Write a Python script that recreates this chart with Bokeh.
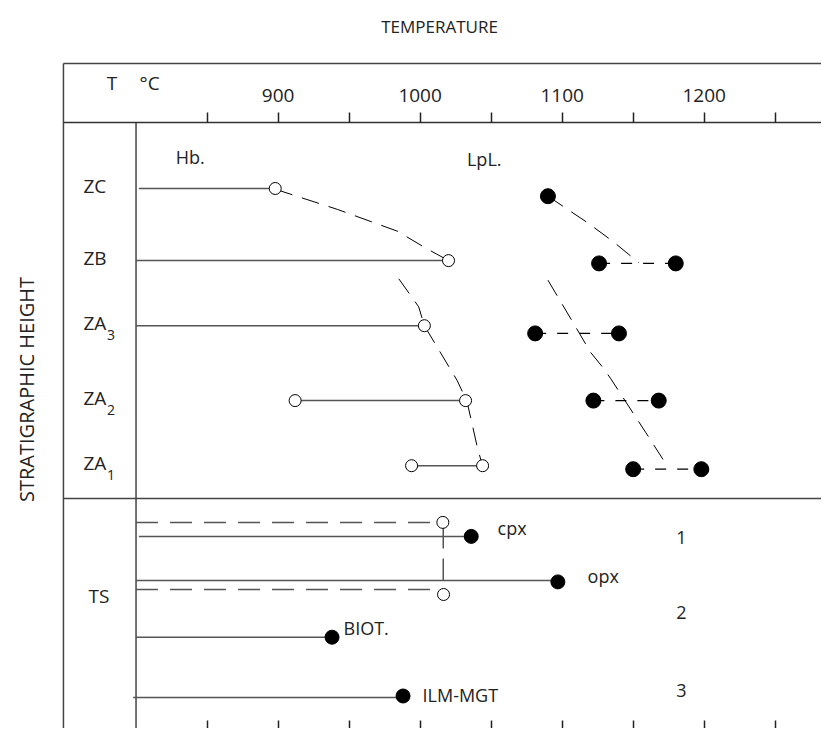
from bokeh.plotting import figure
from bokeh.models import Range1d, LinearAxis, FixedTicker
from bokeh.core.properties import value
from bokeh.embed import file_html
from bokeh.resources import INLINE
import math

FONT = "Open Sans"
INK = "#222222"

# ---------------- data ----------------
# temperature axis (deg C)
major_ticks = [900, 1000, 1100, 1200]
minor_ticks = [850, 950, 1050, 1150, 1250]

# stratigraphic units (upper panel)
units = ["ZC", "ZB", "ZA", "ZA", "ZA"]
unit_sub = ["", "", "3", "2", "1"]
unit_level = [9.0, 7.97, 7.04, 5.97, 5.04]

# Hb. temperature bars and open circles
hb_from = [802, 800, 800, 912, 994]
hb_to = [898, 1020, 1003, 1032, 1044]
hb_pt_T = [898, 1020, 1003, 912, 1032, 994, 1044]
hb_pt_level = [9.0, 7.97, 7.04, 5.97, 5.97, 5.04, 5.04]

# LpL. temperatures (filled dots)
lpl_T = [1090, 1126, 1180, 1081, 1140, 1122, 1168, 1150, 1198]
lpl_level = [8.89, 7.93, 7.93, 6.93, 6.93, 5.97, 5.97, 4.99, 4.99]
lpl_pair_from = [1126, 1081, 1122, 1150]
lpl_pair_to = [1180, 1140, 1168, 1198]
lpl_pair_level = [7.93, 6.93, 5.97, 4.99]

# dashed trends
hb_trend1_T = [898, 942, 984, 1003, 1020]
hb_trend1_level = [8.99, 8.70, 8.39, 8.16, 7.97]
hb_trend2_T = [985, 999, 1003, 1026, 1033, 1040, 1044]
hb_trend2_level = [7.71, 7.31, 7.04, 6.26, 5.96, 5.33, 5.03]
lpl_trend1_T = [1090, 1118, 1136, 1154]
lpl_trend1_level = [8.89, 8.51, 8.24, 7.94]
lpl_trend2_T = [1090, 1109, 1120, 1128, 1134, 1159, 1171]
lpl_trend2_level = [7.69, 7.04, 6.66, 6.46, 6.29, 5.51, 5.13]

# TS (lower panel)
ts_minerals = ["cpx", "opx", "BIOT.", "ILM-MGT"]
ts_from = [802, 800, 800, 798]
ts_T = [1036, 1097, 938, 988]
ts_level = [4.03, 3.40, 2.59, 1.73]
ts_dot_level = [4.03, 3.38, 2.59, 1.75]
ts_open_T = [1016, 1016.5]
ts_open_level = [4.23, 3.20]
ts_dash_from = [800, 800]
ts_dash_to = [1016, 1016]
ts_dash_level = [4.23, 3.27]
ts_link_T = 1016.3
ts_link_level = [4.23, 3.40]
groups = ["1", "2", "3"]
group_level = [3.90, 2.83, 1.71]

# ---------------- layout constants ----------------
W, H = 821, 728
X0, X1 = 704.58, 1282.6
Y0, Y1 = 1.2857, 11.6857
X_BOX = 748.9
X_INNER = 800.0
Y_TOP = 10.786
Y_AXIS = 9.943
Y_SEP = 4.571
DY = 0.114  # text baseline correction

p = figure(width=W, height=H, x_range=Range1d(X0, X1), y_range=Range1d(Y0, Y1),
           x_axis_type=None, y_axis_type=None, toolbar_location=None,
           output_backend="svg", min_border=0, outline_line_color=None)
p.background_fill_color = "white"
p.border_fill_color = "white"

# frame lines
p.segment(x0=[X_BOX, X_BOX, X_BOX, X_INNER], y0=[Y0, Y_TOP, Y_SEP, Y_AXIS],
          x1=[X_BOX, X1, X1, X_INNER], y1=[Y_TOP, Y_TOP, Y_SEP, Y0],
          line_color="#444444", line_width=1.5)

# temperature axes
ticker = FixedTicker(ticks=major_ticks, minor_ticks=minor_ticks)
top = LinearAxis(ticker=ticker, fixed_location=Y_AXIS, bounds=(X_BOX, X1),
                 axis_line_color="#333333", axis_line_width=1.5,
                 major_tick_in=0, major_tick_out=10, minor_tick_in=0, minor_tick_out=10,
                 major_tick_line_color=INK, minor_tick_line_color=INK,
                 major_tick_line_width=1.5, minor_tick_line_width=1.5,
                 major_label_standoff=10, major_label_text_font=FONT,
                 major_label_text_font_size="19px", major_label_text_color=INK)
p.add_layout(top, "above")
bottom_ticker = FixedTicker(ticks=[], minor_ticks=major_ticks + minor_ticks)
bottom = LinearAxis(ticker=bottom_ticker, fixed_location=Y0, bounds=(X_BOX, X1),
                    axis_line_color=None, major_tick_in=0, major_tick_out=0,
                    minor_tick_in=8, minor_tick_out=0,
                    minor_tick_line_color=INK, minor_tick_line_width=1.5)
p.add_layout(bottom, "below")

# Hb bars
p.segment(x0=hb_from, y0=unit_level, x1=hb_to, y1=unit_level, line_color="#555555", line_width=1.5)
# trends
for tx, ty in [(hb_trend1_T, hb_trend1_level), (hb_trend2_T, hb_trend2_level),
               (lpl_trend1_T, lpl_trend1_level), (lpl_trend2_T, lpl_trend2_level)]:
    p.line(tx, ty, line_color="black", line_width=1, line_dash="18 10")
p.segment(x0=lpl_pair_from, y0=lpl_pair_level, x1=lpl_pair_to, y1=lpl_pair_level,
          line_color="black", line_width=1.2, line_dash="11 11")

# TS lines
p.segment(x0=ts_from, y0=ts_level, x1=ts_T, y1=ts_level, line_color="#555555", line_width=1.5)
p.segment(x0=ts_dash_from, y0=ts_dash_level, x1=ts_dash_to, y1=ts_dash_level,
          line_color="#555555", line_width=1.5, line_dash="22 12")
p.line([ts_link_T, ts_link_T], ts_link_level, line_color="#555555", line_width=1.5, line_dash="26 10")

# markers
p.scatter(hb_pt_T, hb_pt_level, size=12, marker="circle", fill_color="white", line_color="black", line_width=1)
p.scatter(ts_open_T, ts_open_level, size=12, marker="circle", fill_color="white", line_color="black", line_width=1)
p.scatter(lpl_T, lpl_level, size=15, marker="circle", fill_color="black", line_color="black")
p.scatter(ts_T, ts_dot_level, size=14, marker="circle", fill_color="black", line_color="black")

# texts
def txt(x, y, t, size, align="left", baseline="alphabetic", angle=0, dy=DY):
    p.text(x=x, y=[v + dy for v in y], text=t, text_font=value(FONT), text_font_size=size,
           text_color=INK, text_align=align, text_baseline=baseline, angle=angle)

txt([763] * 5, [l - 0.08 for l in unit_level], units, "19px")
txt([779.5] * 3, [l - 0.25 for l in unit_level[2:]], unit_sub[2:], "14px")
txt([766.6], [3.071], ["TS"], "19px")
txt([828, 1033], [9.33, 9.31], ["Hb.", "LpL."], "18px")
txt([779.3, 802.5], [10.386, 10.386], ["T", "°C"], "19px")
txt([1054.5, 1117.9, 946.1, 1001.7], [4.043, 3.357, 2.614, 1.657], ts_minerals, "18px")
txt([1184] * 3, group_level, groups, "18px", align="center")
txt([1013.7], [11.2], ["TEMPERATURE"], "17px", align="center")
txt([722.9], [6.079], ["STRATIGRAPHIC HEIGHT"], "20px", align="center", baseline="middle",
    angle=math.pi / 2, dy=0.05)

open("out.html", "w").write(file_html(p, INLINE))
